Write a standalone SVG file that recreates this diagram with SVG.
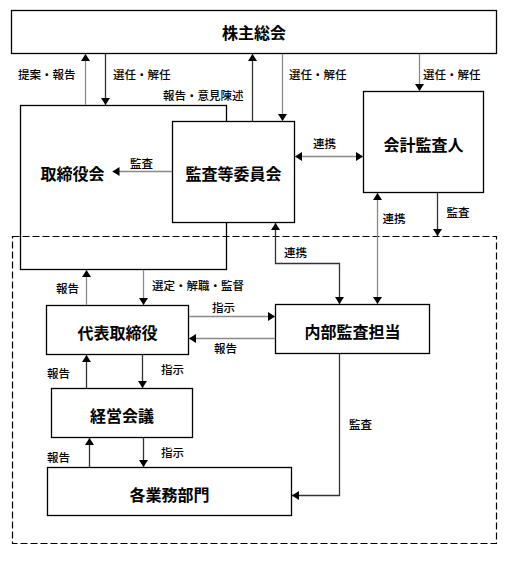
<svg xmlns="http://www.w3.org/2000/svg" width="522" height="563" viewBox="0 0 522 563">
<style>
.box{fill:#fff;stroke:#000;stroke-width:1.3}
.nofill{fill:none;stroke:#000;stroke-width:1.3}
.frame{fill:none;stroke:#000;stroke-width:1.2;stroke-dasharray:7,3}
.nl{font-family:"Noto Sans CJK JP","Noto Sans",sans-serif;font-size:16px;font-weight:bold;fill:#000;text-anchor:middle;dominant-baseline:central}
.lb{font-family:"Noto Sans CJK JP","Noto Sans",sans-serif;font-size:11.5px;font-weight:500;fill:#000;dominant-baseline:central}
.g{fill:none;stroke:#8a8a8a;stroke-width:1.3}
.d{fill:none;stroke:#333;stroke-width:1.3}
.e{marker-end:url(#ah)}
.s{marker-start:url(#ah)}
</style>
<defs>
<marker id="ah" markerUnits="userSpaceOnUse" markerWidth="8" markerHeight="10" refX="7" refY="4.5" orient="auto-start-reverse">
<path d="M0,0 L7,4.5 L0,9 z" fill="#000"/>
</marker>
</defs>
<rect width="522" height="563" fill="#fff"/>
<rect class="frame" x="12.5" y="236.5" width="484" height="307"/>
<g id="kabunushi"><rect class="box" x="11.5" y="10.5" width="485" height="43"/><text class="nl" x="254" y="32">株主総会</text></g>
<g id="torishimariyakukai"><rect class="nofill" x="20.5" y="105.5" width="206" height="164"/><text class="nl" x="72.5" y="173">取締役会</text></g>
<g id="kansatou"><rect class="box" x="172.5" y="121.5" width="122" height="101"/><text class="nl" x="233.5" y="172.5">監査等委員会</text></g>
<g id="kaikei"><rect class="box" x="363.5" y="91.5" width="120" height="101"/><text class="nl" x="423.5" y="143.5">会計監査人</text></g>
<g id="daihyou"><rect class="box" x="46.5" y="305.5" width="142" height="49"/><text class="nl" x="117.5" y="331.5">代表取締役</text></g>
<g id="naibu"><rect class="box" x="275.5" y="304.5" width="154" height="49"/><text class="nl" x="352.5" y="330.5">内部監査担当</text></g>
<g id="keiei"><rect class="box" x="51.5" y="388.5" width="141" height="49"/><text class="nl" x="122" y="415">経営会議</text></g>
<g id="gyoumu"><rect class="box" x="47.5" y="467.5" width="244" height="48"/><text class="nl" x="169.5" y="494">各業務部門</text></g>
<g id="connectors">
<path class="g e" d="M85.5,105 V54"/>
<path class="d e" d="M105.5,54 V105"/>
<path class="d e" d="M252.5,121 V54"/>
<path class="g e" d="M282.5,54 V121"/>
<path class="g e" d="M419.5,54 V91"/>
<path class="g e" d="M172,171.5 H112.5"/>
<path class="g e s" d="M295,156.5 H363"/>
<path class="d e" d="M437.5,193 V236"/>
<path class="g e s" d="M377.5,193 V304"/>
<path class="d s e" d="M275.5,223 V263.5 H339.5 V304"/>
<path class="g e" d="M143.5,270 V305"/>
<path class="g e" d="M86.5,305 V270"/>
<path class="g e" d="M189,316.5 H275"/>
<path class="g e" d="M275,338.5 H189"/>
<path class="d e" d="M86.5,388 V355"/>
<path class="d e" d="M142.5,355 V388"/>
<path class="d e" d="M89.5,467 V438"/>
<path class="d e" d="M143.5,438 V467"/>
<path class="d e" d="M339.5,354 V495.5 H292"/>
<text class="lb" x="18" y="74">提案・報告</text>
<text class="lb" x="113" y="74">選任・解任</text>
<text class="lb" x="163" y="95">報告・意見陳述</text>
<text class="lb" x="289" y="74">選任・解任</text>
<text class="lb" x="423" y="74">選任・解任</text>
<text class="lb" x="130" y="162.5">監査</text>
<text class="lb" x="313" y="142.5">連携</text>
<text class="lb" x="446.5" y="212">監査</text>
<text class="lb" x="382.5" y="218">連携</text>
<text class="lb" x="284" y="252">連携</text>
<text class="lb" x="56" y="288">報告</text>
<text class="lb" x="152" y="285">選定・解職・監督</text>
<text class="lb" x="212" y="307">指示</text>
<text class="lb" x="214" y="348">報告</text>
<text class="lb" x="47" y="373">報告</text>
<text class="lb" x="161" y="369">指示</text>
<text class="lb" x="47" y="457">報告</text>
<text class="lb" x="161" y="452">指示</text>
<text class="lb" x="349" y="424">監査</text>
</g>
</svg>
